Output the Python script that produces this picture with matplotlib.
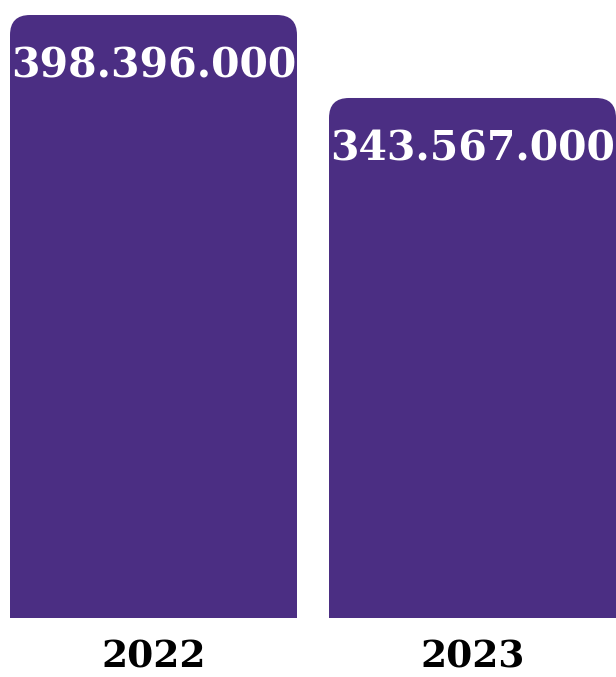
import matplotlib
matplotlib.use("Agg")
import matplotlib.pyplot as plt
from matplotlib.path import Path
from matplotlib.patches import PathPatch

years = ["2022", "2023"]
values = [398396000, 343567000]
labels = ["398.396.000", "343.567.000"]

BAR_COLOR = "#4b2e83"
W, H, DPI = 616, 677, 100

fig = plt.figure(figsize=(W / DPI, H / DPI), dpi=DPI)
ax = fig.add_axes([0, 59 / H, 1, 618 / H])
ax.set_axis_off()

x = list(range(len(years)))
width = 287 / 319
ax.set_xlim(-153.5 / 319, (W - 153.5) / 319)
ax.set_ylim(0, values[0] * 618 / 603)
fig.canvas.draw()


def rounded_bar(ax, xc, w, h, r_px=20):
    # radius in data units, separately for x and y
    (x0, y0), (x1, y1) = ax.transData.inverted().transform([(0, 0), (r_px, r_px)])
    rx, ry = x1 - x0, y1 - y0
    left, right = xc - w / 2, xc + w / 2
    verts = [
        (left, 0), (left, h - ry), (left, h), (left + rx, h),
        (right - rx, h), (right, h), (right, h - ry), (right, 0), (left, 0),
    ]
    codes = [
        Path.MOVETO, Path.LINETO, Path.CURVE3, Path.CURVE3,
        Path.LINETO, Path.CURVE3, Path.CURVE3, Path.LINETO, Path.CLOSEPOLY,
    ]
    ax.add_patch(PathPatch(Path(verts, codes), facecolor=BAR_COLOR, edgecolor="none"))


for xi, v, lab, yr in zip(x, values, labels, years):
    rounded_bar(ax, xi, width, v)
    ax.annotate(lab, (xi, v), xytext=(0, -52), textcoords="offset pixels",
                ha="center", va="center", color="white", fontsize=29.5,
                family="DejaVu Serif", fontweight="bold")
    ax.annotate(yr, (xi, 0), xytext=(0, -39), textcoords="offset pixels",
                ha="center", va="center", color="black", fontsize=27,
                family="DejaVu Serif", fontweight="bold", annotation_clip=False)

fig.savefig("out.png", dpi=DPI, facecolor="white")
